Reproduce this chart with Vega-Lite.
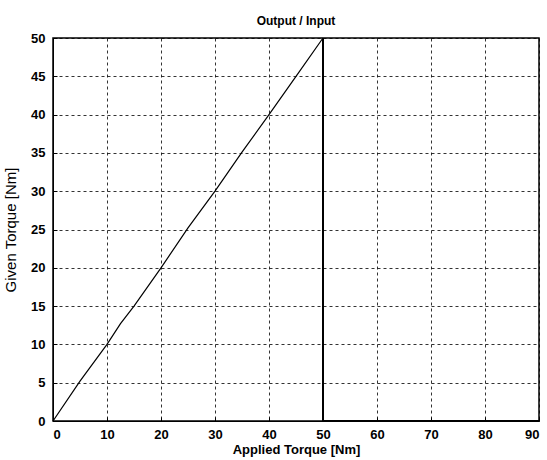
{
  "$schema": "https://vega.github.io/schema/vega-lite/v6.json",
  "width": 486,
  "height": 383,
  "autosize": {"type": "none"},
  "padding": {"left": 53, "top": 38, "right": 8, "bottom": 39},
  "background": "white",
  "title": {"text": "Output / Input", "font": "Liberation Sans", "fontSize": 12, "fontWeight": "bold", "color": "black", "offset": 4},
  "config": {
    "view": {"stroke": "black", "strokeWidth": 1.5},
    "axis": {
      "domainColor": "black", "grid": true, "gridColor": "black", "gridDash": [3, 3], "gridOpacity": 0.8,
      "tickColor": "black", "tickSize": -4, "labelFont": "Liberation Sans", "labelFontSize": 13, "labelFontWeight": "bold",
      "labelColor": "black", "titleFont": "Liberation Sans", "titleFontSize": 13, "titleFontWeight": "bold", "titleColor": "black"
    }
  },
  "datasets": {
    "ramp": [
      {"applied": 0, "given": 0},
      {"applied": 5, "given": 5.2},
      {"applied": 10, "given": 10},
      {"applied": 12.5, "given": 12.7},
      {"applied": 15, "given": 15},
      {"applied": 20, "given": 20},
      {"applied": 25, "given": 25.2},
      {"applied": 30, "given": 30},
      {"applied": 35, "given": 35.1},
      {"applied": 40, "given": 40},
      {"applied": 45, "given": 45},
      {"applied": 50, "given": 50}
    ],
    "cut": [
      {"applied": 50, "given": 50},
      {"applied": 50, "given": 0},
      {"applied": 90, "given": 0}
    ]
  },
  "encoding": {
    "x": {"field": "applied", "type": "quantitative", "scale": {"domain": [0, 90], "nice": false}, "axis": {"values": [0,10,20,30,40,50,60,70,80,90], "title": "Applied Torque [Nm]", "titlePadding": 2, "labelPadding": 11}},
    "y": {"field": "given", "type": "quantitative", "scale": {"domain": [0, 50], "nice": false}, "axis": {"values": [0,5,10,15,20,25,30,35,40,45,50], "title": "Given Torque [Nm]", "titleFontWeight": "normal", "titleFontSize": 15, "titlePadding": 12, "labelPadding": 12}}
  },
  "layer": [
    {
      "data": {"name": "ramp"},
      "mark": {"type": "line", "color": "black", "strokeWidth": 1.2},
      "encoding": {"order": {"field": "applied"}}
    },
    {
      "data": {"name": "cut"},
      "mark": {"type": "line", "color": "black", "strokeWidth": 2},
      "encoding": {"order": {"field": "given", "sort": "descending"}}
    }
  ]
}
